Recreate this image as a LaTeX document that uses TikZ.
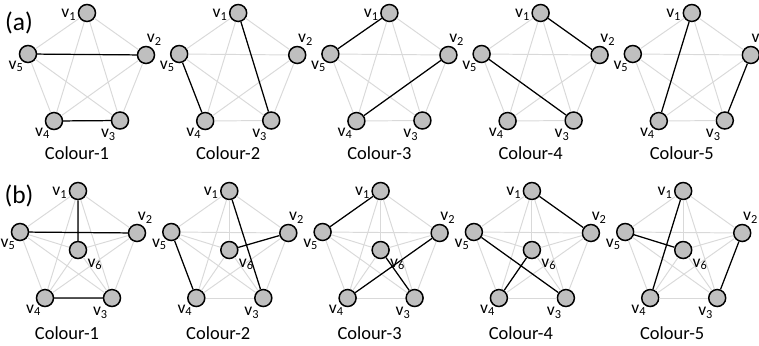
\documentclass[tikz,border=0pt]{standalone}
\usepackage{fontspec}
\setmainfont{Carlito}
\usepackage{tikz}
\usetikzlibrary{positioning}
\usepackage{xcolor}
\definecolor{edgegrey}{RGB}{217,217,217}
\definecolor{vertexgrey}{RGB}{191,191,191}

\tikzset{
  vtx/.style={circle, draw=black, fill=vertexgrey, line width=0.85pt, minimum size=0.34cm, inner sep=0pt},
  lightedge/.style={edgegrey, line width=0.55pt},
  colouredge/.style={black, line width=0.7pt},
  vlbl/.style={font=\fontsize{10}{10}\selectfont, inner sep=0pt},
  capt/.style={font=\fontsize{10.5}{11}\selectfont, inner sep=0pt},
  tag/.style={font=\fontsize{14.5}{15}\selectfont, inner sep=0pt}
}

\begin{document}
\begin{tikzpicture}[x=0.02cm, y=-0.02cm]
  \useasboundingbox (0,0) rectangle (759,345);

  % (a): five copies of K5
  \node[tag] (taga) at (19,23) {(a)};
  \foreach \p in {1,...,5} {
    \begin{scope}[shift={({87+151.2*(\p-1)},13)}]
      \node[vtx] (a\p-v1) at (0,0) {};
      \node[vtx] (a\p-v2) at (59,42) {};
      \node[vtx] (a\p-v3) at (33,107.5) {};
      \node[vtx] (a\p-v4) at (-33,108) {};
      \node[vtx] (a\p-v5) at (-59,41) {};
      \foreach \i/\j in {1/2,1/3,1/4,1/5,2/3,2/4,2/5,3/4,3/5,4/5}
        \draw[lightedge] (a\p-v\i) -- (a\p-v\j);
      \node[vlbl, anchor=east, xshift=-0.5pt, yshift=-1pt] (a\p-l1) at (a\p-v1.west) {v\textsubscript{1}};
      \node[vlbl, anchor=south west, xshift=0.3pt] (a\p-l2) at (a\p-v2.north) {v\textsubscript{2}};
      \node[vlbl, anchor=north east, xshift=1.7pt, yshift=-1.2pt] (a\p-l3) at (a\p-v3.south west) {v\textsubscript{3}};
      \node[vlbl, anchor=north east, xshift=1.8pt] (a\p-l4) at (a\p-v4.south west) {v\textsubscript{4}};
      \node[vlbl, anchor=north east, xshift=1.5pt] (a\p-l5) at (a\p-v5.south west) {v\textsubscript{5}};
      \node[capt] (a\p-c) at (-10,140) {Colour-\p};
    \end{scope}
  }
  \draw[colouredge] (a1-v5) -- (a1-v2) (a1-v4) -- (a1-v3);
  \draw[colouredge] (a2-v1) -- (a2-v3) (a2-v5) -- (a2-v4);
  \draw[colouredge] (a3-v1) -- (a3-v5) (a3-v2) -- (a3-v4);
  \draw[colouredge] (a4-v1) -- (a4-v2) (a4-v5) -- (a4-v3);
  \draw[colouredge] (a5-v1) -- (a5-v4) (a5-v2) -- (a5-v3);

  % (b): five copies of K6, v6 in the middle
  \node[tag] (tagb) at (19,196) {(b)};
  \foreach \p in {1,...,5} {
    \begin{scope}[shift={({78+151.3*(\p-1)},191)}]
      \node[vtx] (b\p-v1) at (0,0) {};
      \node[vtx] (b\p-v2) at (59,42) {};
      \node[vtx] (b\p-v3) at (34,107) {};
      \node[vtx] (b\p-v4) at (-33,107) {};
      \node[vtx] (b\p-v5) at (-58,41) {};
      \node[vtx] (b\p-v6) at (0,59) {};
      \foreach \i/\j in {1/2,1/3,1/4,1/5,1/6,2/3,2/4,2/5,2/6,3/4,3/5,3/6,4/5,4/6,5/6}
        \draw[lightedge] (b\p-v\i) -- (b\p-v\j);
      \node[vlbl, anchor=east, xshift=-0.5pt, yshift=-1pt] (b\p-l1) at (b\p-v1.west) {v\textsubscript{1}};
      \node[vlbl, anchor=south west, xshift=0.3pt] (b\p-l2) at (b\p-v2.north) {v\textsubscript{2}};
      \node[vlbl, anchor=north east, xshift=1.7pt, yshift=-1.2pt] (b\p-l3) at (b\p-v3.south west) {v\textsubscript{3}};
      \node[vlbl, anchor=north east, xshift=1.8pt] (b\p-l4) at (b\p-v4.south west) {v\textsubscript{4}};
      \node[vlbl, anchor=north east, xshift=1.5pt] (b\p-l5) at (b\p-v5.south west) {v\textsubscript{5}};
      \node[vlbl, anchor=north west, xshift=1.5pt, yshift=-1pt] (b\p-l6) at (b\p-v6.south east) {v\textsubscript{6}};
      \node[capt] (b\p-c) at (-11,142) {Colour-\p};
    \end{scope}
  }
  \draw[colouredge] (b1-v5) -- (b1-v2) (b1-v1) -- (b1-v6) (b1-v4) -- (b1-v3);
  \draw[colouredge] (b2-v1) -- (b2-v3) (b2-v5) -- (b2-v4) (b2-v6) -- (b2-v2);
  \draw[colouredge] (b3-v1) -- (b3-v5) (b3-v2) -- (b3-v4) (b3-v6) -- (b3-v3);
  \draw[colouredge] (b4-v1) -- (b4-v2) (b4-v5) -- (b4-v3) (b4-v6) -- (b4-v4);
  \draw[colouredge] (b5-v1) -- (b5-v4) (b5-v2) -- (b5-v3) (b5-v5) -- (b5-v6);
\end{tikzpicture}
\end{document}
